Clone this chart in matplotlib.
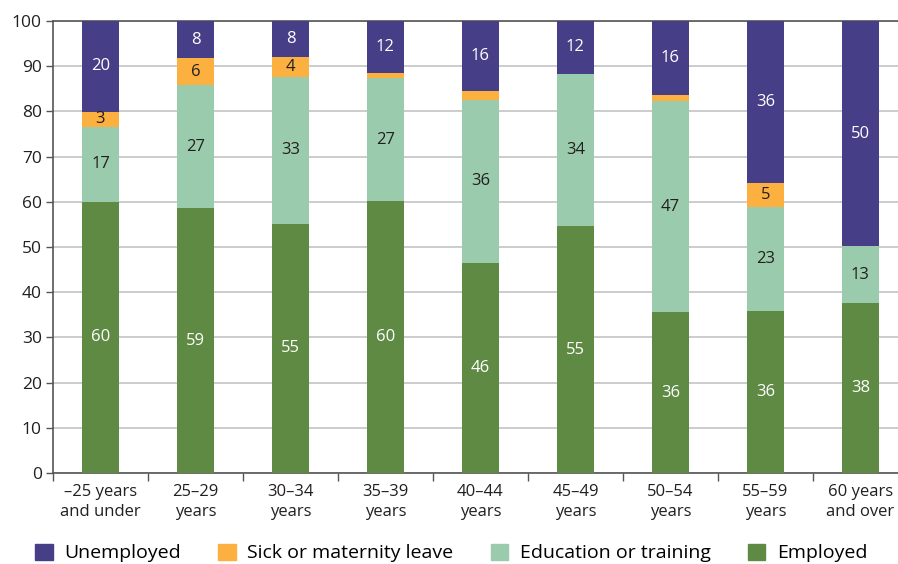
import matplotlib.pyplot as plt
import numpy as np
from matplotlib.patches import Patch

plt.rcParams['font.family'] = ['Open Sans', 'DejaVu Sans']

groups = ['\u201325 years\nand under', '25\u201329\nyears', '30\u201334\nyears',
          '35\u201339\nyears', '40\u201344\nyears', '45\u201349\nyears',
          '50\u201354\nyears', '55\u201359\nyears', '60 years\nand over']

employed = [60.0, 58.6, 55.1, 60.1, 46.4, 54.6, 35.6, 35.8, 37.6]
education = [16.6, 27.2, 32.6, 27.2, 36.2, 33.7, 46.6, 23.0, 12.6]
sick = [3.3, 6.0, 4.3, 1.1, 1.9, 0.0, 1.4, 5.4, 0.0]
unemployed = [20.1, 8.2, 8.0, 11.6, 15.6, 11.7, 16.4, 35.8, 49.8]

# which sick-leave values get a printed label
sick_labelled = [True, True, True, False, False, False, False, True, False]

c_emp = '#5e8a44'
c_edu = '#9bcbad'
c_sick = '#fbb040'
c_unemp = '#463f87'

fig = plt.figure(figsize=(8.98, 5.64), dpi=100)
ax = fig.add_axes([0.059, 0.1613, 0.952, 0.8015])

x = np.arange(len(groups))
w = 0.39

series = [
    (employed, c_emp, 'white', [True] * 9),
    (education, c_edu, '#231f20', [True] * 9),
    (sick, c_sick, '#231f20', sick_labelled),
    (unemployed, c_unemp, 'white', [True] * 9),
]

bottom = np.zeros(len(groups))
for vals, col, tcol, show in series:
    vals = np.array(vals)
    ax.bar(x, vals, w, bottom=bottom, color=col, zorder=3)
    for i, v in enumerate(vals):
        if show[i] and v > 0:
            ax.text(x[i], bottom[i] + v / 2, '%d' % int(round(v)),
                    ha='center', va='center', color=tcol, fontsize=12, zorder=4)
    bottom += vals

ax.set_xlim(-0.5, len(groups) - 0.5)
ax.set_ylim(0, 100)
ax.set_yticks(range(0, 101, 10))
ax.yaxis.grid(True, color='#c8c8c8', linewidth=1.3, zorder=0)
ax.set_xticks(x)
ax.set_xticklabels(groups, fontsize=12, color='#231f20', linespacing=1.3)
ax.set_xticks(np.arange(-0.5, len(groups)), minor=True)
ax.tick_params(axis='x', which='major', length=0, pad=8)
ax.tick_params(axis='x', which='minor', length=6, width=1, color='#555555')
ax.tick_params(axis='y', length=5, width=1, color='#555555', labelsize=12.5,
               labelcolor='#231f20', pad=3)
# keep the last two-line label inside the canvas
ax.get_xticklabels()[-1].set_x(8 - 0.04)

for s in ['left', 'bottom', 'top']:
    ax.spines[s].set_color('#555555')
    ax.spines[s].set_linewidth(1.2)
ax.spines['right'].set_visible(False)

handles = [Patch(color=c_unemp, label='Unemployed'),
           Patch(color=c_sick, label='Sick or maternity leave'),
           Patch(color=c_edu, label='Education or training'),
           Patch(color=c_emp, label='Employed')]
fig.legend(handles=handles, loc='lower left', bbox_to_anchor=(0.02, -0.028),
           ncol=4, frameon=False, fontsize=14, handlelength=0.9,
           handleheight=0.9, handletextpad=0.6, columnspacing=1.9)

fig.savefig('out.png', dpi=100)
